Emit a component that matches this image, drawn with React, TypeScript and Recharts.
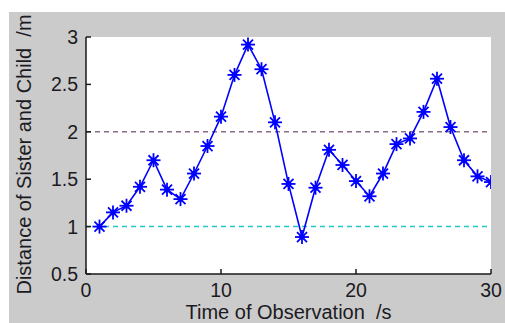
import React from 'react';
import { LineChart, Line, XAxis, YAxis, ReferenceLine, ReferenceArea } from 'recharts';

const times = [1, 2, 3, 4, 5, 6, 7, 8, 9, 10, 11, 12, 13, 14, 15, 16, 17, 18, 19, 20, 21, 22, 23, 24, 25, 26, 27, 28, 29, 30];
const distance = [1.0, 1.15, 1.22, 1.42, 1.7, 1.39, 1.29, 1.56, 1.85, 2.16, 2.6, 2.92, 2.66, 2.1, 1.45, 0.89, 1.41, 1.81, 1.65, 1.48, 1.32, 1.56, 1.87, 1.93, 2.21, 2.56, 2.05, 1.7, 1.53, 1.47];
const xTicks = [0, 10, 20, 30];
const yTicks = [0.5, 1, 1.5, 2, 2.5, 3];
const upperLimit = 2;
const lowerLimit = 1;
const xLabel = 'Time of Observation  /s';
const yLabel = 'Distance of Sister and Child  /m';

const data = times.map((t, i) => ({ t, d: distance[i] }));

const FONT = '"Liberation Sans", Arial, sans-serif';
const TEXT = '#1c1a22';
const AXIS = '#1a1a1a';

const Star = (props: any) => {
  const { cx, cy, index } = props;
  if (cx == null || cy == null) return <g key={index} />;
  const a = 7;
  const b = 5;
  return (
    <g key={index} stroke="#0000ff" strokeWidth={1.8}>
      <line x1={cx - a} y1={cy} x2={cx + a} y2={cy} />
      <line x1={cx} y1={cy - a} x2={cx} y2={cy + a} />
      <line x1={cx - b} y1={cy - b} x2={cx + b} y2={cy + b} />
      <line x1={cx - b} y1={cy + b} x2={cx + b} y2={cy - b} />
      <circle cx={cx} cy={cy} r={2.8} fill="#0000ff" stroke="none" />
    </g>
  );
};

export default function App() {
  const tickStyle = { fill: TEXT, fontSize: 19.5, fontFamily: FONT };
  return (
    <div style={{ position: 'absolute', left: 0, top: 0, width: 505, height: 323, background: '#ffffff' }}>
      <div style={{ position: 'absolute', left: 9, top: 12, width: 496, height: 311, background: '#cbcbcb' }} />
      <div style={{ position: 'absolute', left: 0, top: 0 }}>
        <LineChart width={505} height={323} data={data} margin={{ top: 37, right: 14, bottom: 0, left: 0 }}>
          <XAxis
            dataKey="t"
            type="number"
            domain={[0, 30]}
            ticks={xTicks}
            allowDataOverflow
            height={49}
            tickSize={-5}
            tickMargin={14}
            tick={tickStyle}
            axisLine={{ stroke: AXIS, strokeWidth: 1.5 }}
            tickLine={{ stroke: AXIS, strokeWidth: 1.5 }}
            label={{
              content: (p: any) => {
                const vb = p.viewBox || {};
                return (
                  <text
                    x={vb.x + vb.width / 2}
                    y={vb.y + 45}
                    textAnchor="middle"
                    fill={TEXT}
                    fontSize={20}
                    fontFamily={FONT}
                    style={{ whiteSpace: 'pre' }}
                  >
                    {xLabel}
                  </text>
                );
              },
            }}
          />
          <XAxis
            xAxisId="top"
            dataKey="t"
            type="number"
            domain={[0, 30]}
            ticks={xTicks}
            orientation="top"
            height={0}
            tick={false}
            tickSize={-5}
            axisLine={{ stroke: AXIS, strokeWidth: 1.5 }}
            tickLine={{ stroke: AXIS, strokeWidth: 1.5 }}
          />
          <YAxis
            type="number"
            domain={[0.5, 3]}
            ticks={yTicks}
            allowDataOverflow
            width={86}
            tickSize={-5}
            tickMargin={13}
            tick={tickStyle}
            axisLine={{ stroke: AXIS, strokeWidth: 1.5 }}
            tickLine={{ stroke: AXIS, strokeWidth: 1.5 }}
            label={{
              content: (p: any) => {
                const vb = p.viewBox || {};
                const cx = vb.x + 31;
                const cy = vb.y + vb.height / 2 - 1;
                return (
                  <text
                    x={cx}
                    y={cy}
                    textAnchor="middle"
                    transform={`rotate(-90 ${cx} ${cy})`}
                    fill={TEXT}
                    fontSize={20}
                    fontFamily={FONT}
                    style={{ whiteSpace: 'pre' }}
                  >
                    {yLabel}
                  </text>
                );
              },
            }}
          />
          <YAxis
            yAxisId="right"
            type="number"
            domain={[0.5, 3]}
            ticks={yTicks}
            orientation="right"
            width={0}
            tick={false}
            tickSize={-5}
            axisLine={{ stroke: AXIS, strokeWidth: 1.5 }}
            tickLine={{ stroke: AXIS, strokeWidth: 1.5 }}
          />
          <ReferenceArea x1={0} x2={30} y1={0.5} y2={3} fill="#ffffff" fillOpacity={1} stroke="none" />
          <ReferenceLine y={upperLimit} stroke="#8a6c84" strokeWidth={1.5} strokeDasharray="5 4" />
          <ReferenceLine y={lowerLimit} stroke="#22c8c8" strokeWidth={1.5} strokeDasharray="5 4" />
          <Line
            dataKey="d"
            stroke="#0000ff"
            strokeWidth={1.6}
            isAnimationActive={false}
            dot={(p: any) => <Star {...p} key={p.index} />}
            activeDot={false}
          />
        </LineChart>
      </div>
    </div>
  );
}
